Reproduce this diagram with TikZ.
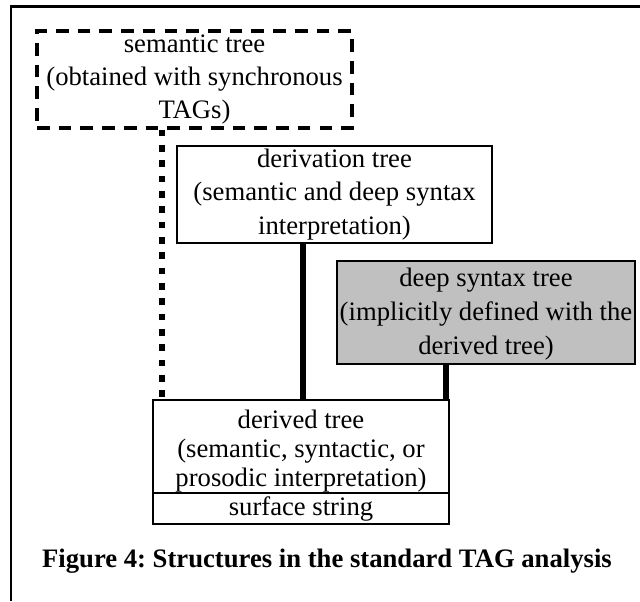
\documentclass[tikz,border=0pt]{standalone}
\usepackage{fontspec}
\setmainfont{Liberation Serif}
\frenchspacing
\begin{document}
\begin{tikzpicture}[x=0.75pt,y=-0.75pt,
  treebox/.style={draw=black,line width=1.2pt,rectangle,inner sep=0pt,align=center,
    font=\fontsize{20}{24}\selectfont},
  boxtext/.style={inner sep=0pt,align=center},
  thickline/.style={line width=5.2pt},
  dotline/.style={line width=5.2pt,dash pattern=on 5.2pt off 6.3pt},
  frameline/.style={line width=1.6pt}]
\useasboundingbox (0,0) rectangle (640,601);
% open frame: top and left edges only
\coordinate (fTL) at (11,6.5);
\coordinate (fTR) at (640,6.5);
\coordinate (fBL) at (11,601);
\draw[frameline] (fTR) -- (fTL) -- (fBL);

% boxes
\node[treebox,dash pattern=on 9.5pt off 6.8pt,line width=2.3pt,
      minimum width=315*0.75pt,minimum height=97*0.75pt,
      font=\fontsize{20}{24.4}\selectfont]
  (sem) at (194.5,79.5) {semantic tree\\(obtained with synchronous\\TAGs)};
\node[treebox,minimum width=315*0.75pt,minimum height=97*0.75pt,
      font=\fontsize{20}{25}\selectfont]
  (deriv) at (334.5,194.5) {derivation tree\\(semantic and deep syntax\\interpretation)};
\node[treebox,fill={rgb,255:red,192;green,192;blue,192},
      minimum width=298*0.75pt,minimum height=103*0.75pt]
  (deep) at (486,312.5) {};
\node[boxtext,font=\fontsize{20}{25.8}\selectfont]
  (deeptext) at (486,314) {deep syntax tree\\(implicitly defined with the\\derived tree)};
\node[treebox,minimum width=296*0.75pt,minimum height=93*0.75pt]
  (derived) at (301,446.5) {};
\node[boxtext,font=\fontsize{20}{22}\selectfont]
  (derivedtext) at (301,451) {derived tree\\(semantic, syntactic, or\\prosodic interpretation)};
\node[treebox,minimum width=296*0.75pt,minimum height=31*0.75pt]
  (surf) at (301,508.5) {surface string};

% connectors
\coordinate (xsem) at (162,0);
\coordinate (xder) at (303,0);
\coordinate (xdeep) at (446,0);
\draw[dotline] (xsem |- sem.south) -- (xsem |- derived.north);
\draw[thickline] (xder |- deriv.south) -- (xder |- derived.north);
\draw[thickline] (xdeep |- deep.south) -- (xdeep |- derived.north);

% caption
\node[font=\fontsize{20}{24}\selectfont\bfseries] (cap) at (327,561)
  {Figure 4: Structures in the standard TAG analysis};
\end{tikzpicture}
\end{document}
